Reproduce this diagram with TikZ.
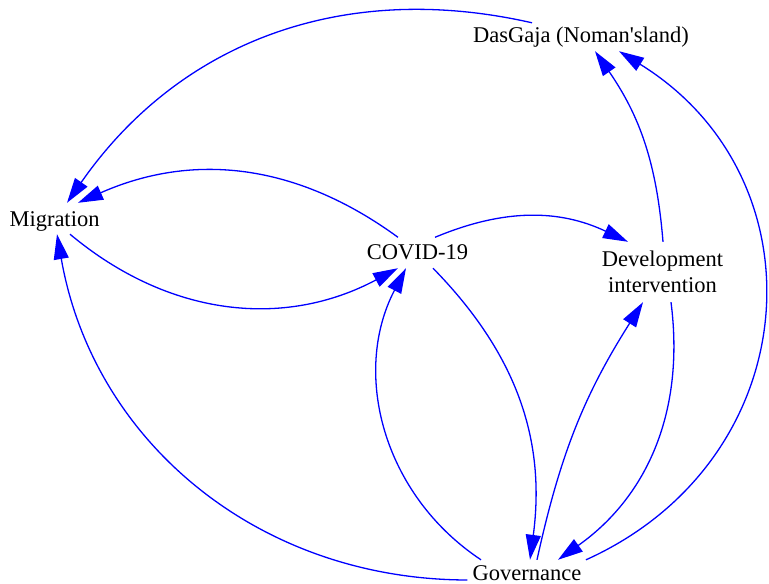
\documentclass[tikz,border=0pt]{standalone}
\usepackage{fontspec}
\setmainfont{Liberation Serif}
\usetikzlibrary{arrows.meta}
\tikzset{
  loopVar/.style={rectangle, inner sep=0pt, align=center, font=\fontsize{22.5pt}{26pt}\selectfont},
  loopArr/.style={draw=blue, line width=1.3pt, -{Triangle[length=25pt, width=15pt]}},
}

\begin{document}
\begin{tikzpicture}[x=1pt, y=1pt]
\useasboundingbox (0,0) rectangle (769,-584);

\node (mig) [loopVar, anchor=base, text height=23.6pt, text depth=7.4pt] at (54.5,-226.6) {Migration};
\node (cov) [loopVar, anchor=base, text height=21.8pt, text depth=8.7pt] at (417.5,-259.3) {COVID-19};
\node (dev) [loopVar, minimum height=60pt] at (662.5,-272) {Development\\intervention};
\node (das) [loopVar, anchor=base, text height=19.7pt, text depth=8.3pt] at (581,-42.7) {DasGaja (Noman\textquotesingle sland)};
\node (gov) [loopVar, anchor=base, inner xsep=5pt, text height=20.5pt, text depth=19.5pt] at (527,-580.5) {Governance};

% links around Migration and COVID-19
\draw [loopArr] ([xshift=-49pt]das.north) to[bend right=34] ([xshift=12.5pt]mig.north);
\draw [loopArr] ([xshift=-19.5pt]cov.north) to[bend right=30] ([xshift=23.5pt]mig.north);
\draw [loopArr] ([xshift=15.5pt]mig.south) to[bend right=34] ([xshift=-19.5pt]cov.south);
\draw [loopArr] ([xshift=17.5pt]cov.north) to[bend left=24] ([xshift=-34.5pt]dev.north);
\draw [loopArr] ([xshift=0.5pt]dev.north) to[bend right=15] ([xshift=14pt]das.south);

% links from and to Governance
\draw [loopArr] ([xshift=59pt]gov.north) to[bend right=62, looseness=1.22] ([xshift=38pt]das.south);
\draw [loopArr] (gov.west) to[bend left=40] ([xshift=2.5pt]mig.south);
\draw [loopArr] ([xshift=15.5pt]cov.south) to[bend left=26] ([xshift=3pt]gov.north);
\draw [loopArr] ([xshift=-46pt]gov.north) to[bend left=42] ([xshift=-11.5pt]cov.south);
\draw [loopArr] ([xshift=10pt]gov.north) to[bend left=10] ([xshift=-19.5pt]dev.south);
\draw [loopArr] ([xshift=8.5pt]dev.south) to[bend left=31] ([xshift=31pt]gov.north);
\end{tikzpicture}
\end{document}
